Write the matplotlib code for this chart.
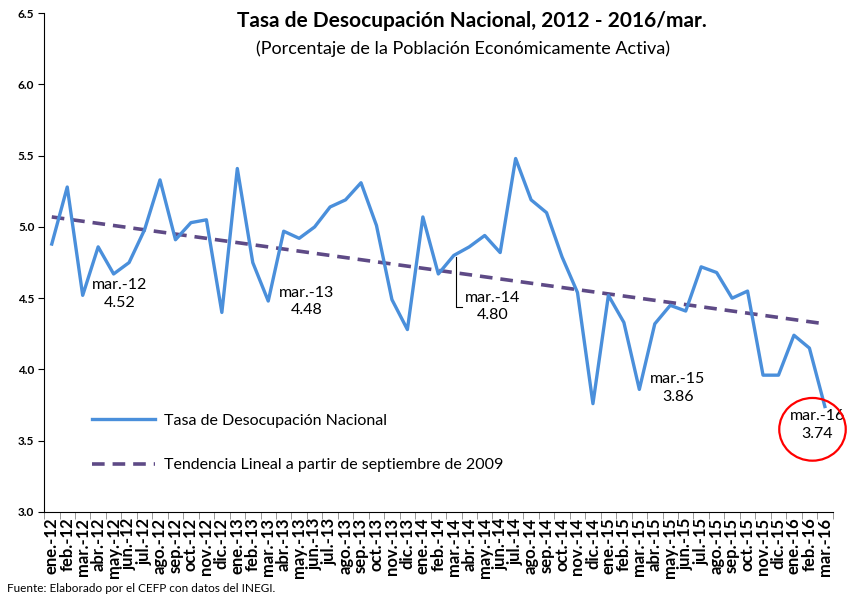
import numpy as np
import matplotlib.pyplot as plt
from matplotlib.patches import Ellipse

plt.rcParams['font.family'] = ['Lato', 'DejaVu Sans']

# Monthly data, ene-12 .. mar-16
months = ['ene.', 'feb.', 'mar.', 'abr.', 'may.', 'jun.',
          'jul.', 'ago.', 'sep.', 'oct.', 'nov.', 'dic.']
labels = [f'{m}-{y}' for y in ['12', '13', '14', '15'] for m in months] + \
         ['ene.-16', 'feb.-16', 'mar.-16']

tasa = [4.88, 5.28, 4.52, 4.86, 4.67, 4.75, 4.98, 5.33, 4.91, 5.03, 5.05, 4.40,
        5.41, 4.75, 4.48, 4.97, 4.92, 5.00, 5.14, 5.19, 5.31, 5.01, 4.49, 4.28,
        5.07, 4.67, 4.80, 4.86, 4.94, 4.82, 5.48, 5.19, 5.10, 4.79, 4.54, 3.76,
        4.52, 4.33, 3.86, 4.32, 4.45, 4.41, 4.72, 4.68, 4.50, 4.55, 3.96, 3.96,
        4.24, 4.15, 3.74]

# linear trend (from sep-2009), value at first and last month shown
trend_ends = [5.07, 4.32]

annot_idx = [2, 14, 26, 38, 50]

x = np.arange(len(tasa))

fig = plt.figure(figsize=(8.47, 5.97), dpi=100)
ax = fig.add_axes([0.052, 0.1424, 0.931, 0.8356])

ax.plot(x, tasa, color='#4A8FDB', linewidth=2.4,
        label='Tasa de Desocupación Nacional', zorder=3)
ax.plot([x[0], x[-1]], trend_ends, color='#5E4A86', linewidth=2.6,
        linestyle=(0, (3.5, 2.2)),
        label='Tendencia Lineal a partir de septiembre de 2009', zorder=2)

ax.set_xlim(-0.5, len(tasa) - 0.5)
ax.set_ylim(3.0, 6.5)
ax.set_yticks(np.arange(3.0, 6.51, 0.5))
ax.set_yticklabels([f'{v:.1f}' for v in np.arange(3.0, 6.51, 0.5)],
                   fontsize=8.5, fontweight='bold')
ax.set_xticks(x)
ax.set_xticklabels(labels, rotation=90, fontsize=12, fontweight='bold')
ax.tick_params(axis='x', which='major', length=0, pad=4)
ax.set_xticks(np.arange(-0.5, len(tasa), 1.0), minor=True)
ax.tick_params(axis='x', which='minor', length=5, color='#888888')
ax.tick_params(axis='y', length=4, pad=3)

for s in ['top', 'right']:
    ax.spines[s].set_visible(False)
ax.spines['left'].set_color('black')
ax.spines['bottom'].set_color('black')

# annotations of march values (label position: x, top y)
label_pos = {2: (4.4, 4.64), 14: (16.5, 4.585), 26: (28.5, 4.55),
             38: (40.5, 3.98), 50: (49.5, 3.72)}
for i in annot_idx:
    lx, ly = label_pos[i]
    ax.text(lx, ly, f'{labels[i]}\n{tasa[i]:.2f}',
            ha='center', va='top', fontsize=11.5, linespacing=1.3)

# leader line for mar.-14
ax.plot([26.13, 26.13, 26.5], [tasa[26] - 0.01, 4.44, 4.44],
        color='black', linewidth=0.8)

# highlight last value
ax.add_patch(Ellipse((49.2, 3.58), width=4.3, height=0.44, clip_on=False,
                     fill=False, edgecolor='red', linewidth=1.6, zorder=4))

ax.legend(loc='upper left', bbox_to_anchor=(0.043, 0.226), frameon=False,
          fontsize=11.5, handlelength=3.9, handletextpad=0.6,
          labelspacing=1.9)

fig.text(0.557, 0.955, 'Tasa de Desocupación Nacional, 2012 - 2016/mar.',
         ha='center', fontsize=15, fontweight='bold')
fig.text(0.547, 0.91, '(Porcentaje de la Población Económicamente Activa)',
         ha='center', fontsize=13)
fig.text(0.008, 0.008, 'Fuente: Elaborado por el CEFP con datos del INEGI.',
         fontsize=8.5)

fig.savefig('out.png', dpi=100)
